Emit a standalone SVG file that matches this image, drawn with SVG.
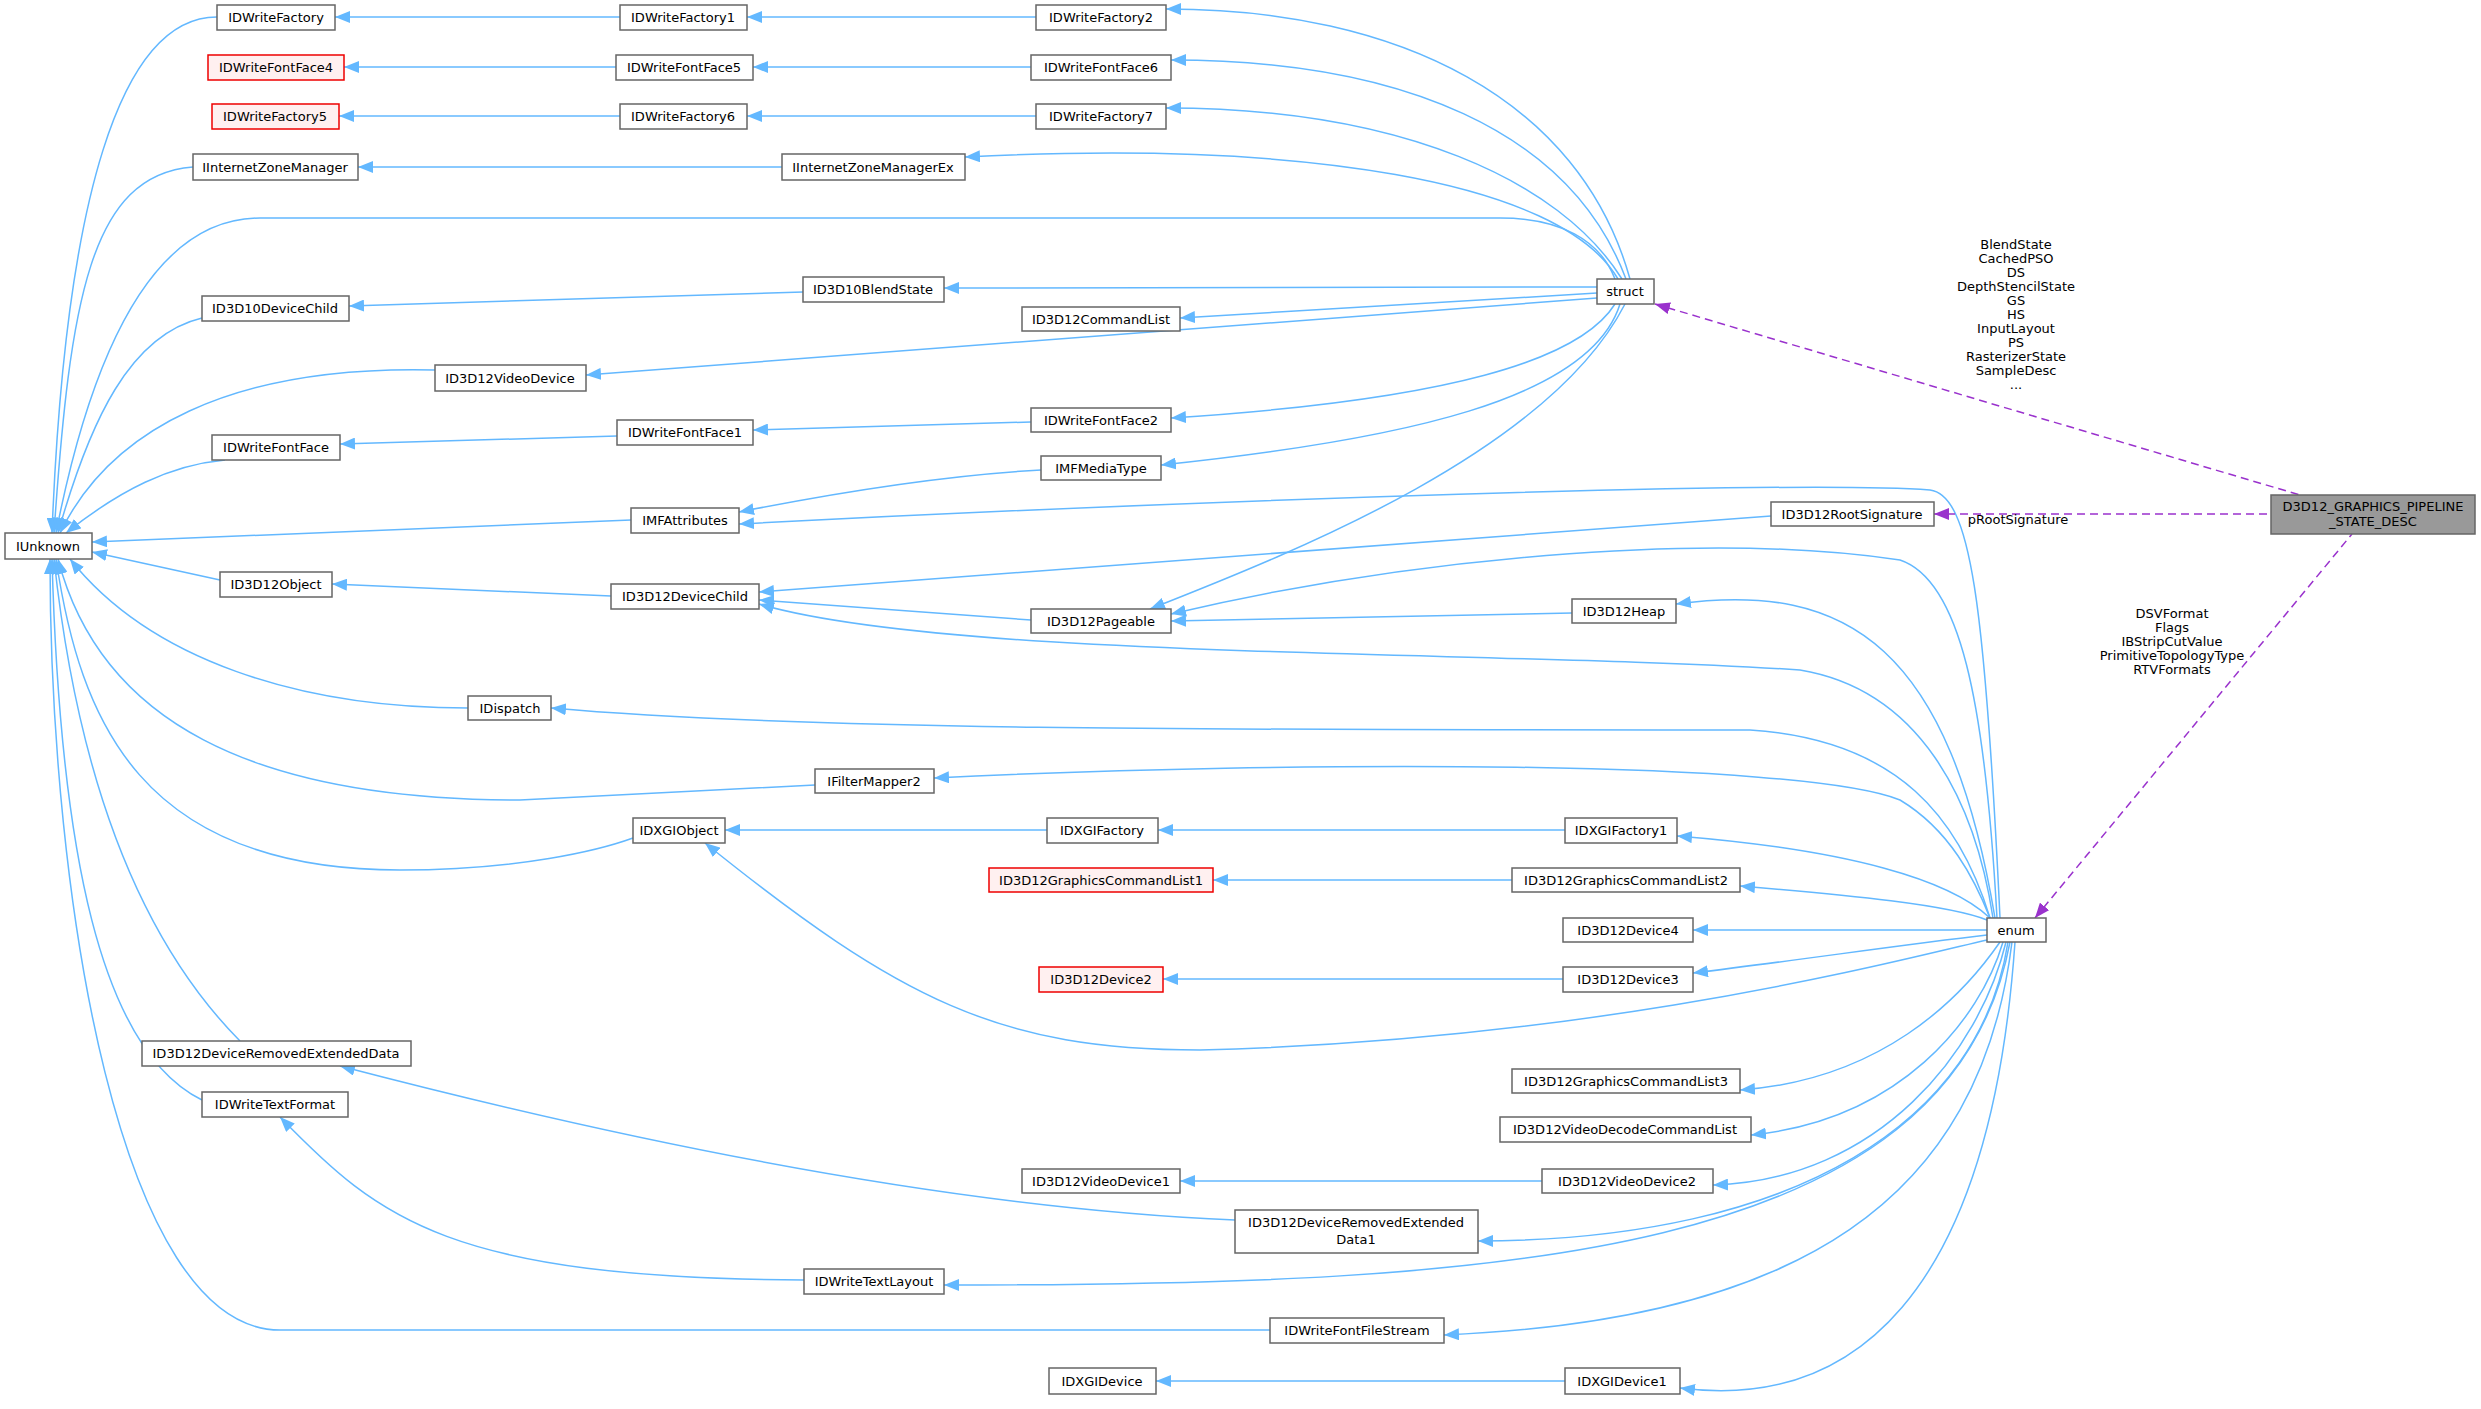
<svg xmlns="http://www.w3.org/2000/svg" width="2481" height="1409" viewBox="0 0 2481 1409">
<style>
.n rect{fill:#fff;stroke:#666;stroke-width:1.5}
.n.r rect{fill:#fff0f0;stroke:#e00}
.n text,.l{font-family:"DejaVu Sans",sans-serif;font-size:13px;fill:#000;text-anchor:middle}
.e path{fill:none;stroke:#63b8ff;stroke-width:1.5;marker-start:url(#a)}
.d path{fill:none;stroke:#9a32cd;stroke-width:1.5;stroke-dasharray:8,5;marker-start:url(#p)}
</style>
<defs>
<marker id="a" markerUnits="userSpaceOnUse" markerWidth="16" markerHeight="12" refX="15" refY="6" orient="auto-start-reverse"><path d="M0,0 L15,6 L0,12 z" fill="#63b8ff"/></marker>
<marker id="p" markerUnits="userSpaceOnUse" markerWidth="16" markerHeight="12" refX="15" refY="6" orient="auto-start-reverse"><path d="M0,0 L15,6 L0,12 z" fill="#9a32cd"/></marker>
</defs>
<rect width="2481" height="1409" fill="#fff"/>
<g class="e">
<path d="M52,533 C65,200 120,17 217,17"/>
<path d="M54,533 C70,300 90,175 193,167"/>
<path d="M56,533 C90,360 150,218 260,218 L1500,218 C1560,218 1600,240 1615,279"/>
<path d="M58,533 C90,420 130,335 202,318"/>
<path d="M60,533 C110,430 230,365 435,370"/>
<path d="M66,533 C120,490 170,465 225,460"/>
<path d="M92,542 L631,520"/>
<path d="M92,552 L220,580"/>
<path d="M70,559 C150,660 300,708 468,708"/>
<path d="M58,559 C100,720 250,800 520,800 L815,785"/>
<path d="M56,559 C80,720 140,870 400,870 C520,870 600,850 633,838"/>
<path d="M54,559 C80,800 150,950 240,1041"/>
<path d="M52,559 C60,850 100,1050 202,1100"/>
<path d="M50,559 C50,900 120,1330 280,1330 L1270,1330"/>
<path d="M335,17 L620,17"/>
<path d="M747,17 L1036,17"/>
<path d="M344,67 L616,67"/>
<path d="M753,67 L1031,67"/>
<path d="M339,116 L620,116"/>
<path d="M747,116 L1036,116"/>
<path d="M358,167 L782,167"/>
<path d="M1166,9 C1400,9 1580,100 1630,279"/>
<path d="M1171,60 C1400,60 1570,130 1626,279"/>
<path d="M1166,108 C1400,108 1560,180 1622,279"/>
<path d="M965,157 C1300,140 1560,180 1618,279"/>
<path d="M349,306 L803,292"/>
<path d="M944,288 L1597,287"/>
<path d="M1180,318 L1597,293"/>
<path d="M586,375 L1597,298"/>
<path d="M340,444 L617,436"/>
<path d="M753,430 L1031,422"/>
<path d="M1171,418 C1450,400 1580,360 1615,304"/>
<path d="M1161,465 C1400,440 1590,400 1620,304"/>
<path d="M739,512 C850,490 950,475 1041,470"/>
<path d="M739,524 C1200,500 1800,480 1930,490 C1970,495 1985,600 2000,918"/>
<path d="M332,584 L611,596"/>
<path d="M759,592 L1771,516"/>
<path d="M759,600 L1031,620"/>
<path d="M1150,609 C1300,550 1550,450 1625,304"/>
<path d="M1171,614 C1400,560 1700,530 1900,560 C1960,580 1985,700 1997,918"/>
<path d="M1171,621 L1572,613"/>
<path d="M1676,604 C1850,580 1950,650 1995,918"/>
<path d="M759,604 C950,660 1500,650 1800,670 C1920,690 1975,800 1993,918"/>
<path d="M551,708 C800,730 1200,730 1750,730 C1900,740 1960,820 1990,918"/>
<path d="M934,778 C1300,760 1800,760 1900,800 C1950,830 1975,880 1990,918"/>
<path d="M725,830 L1047,830"/>
<path d="M1158,830 L1565,830"/>
<path d="M1677,836 C1850,850 1950,880 1990,918"/>
<path d="M1213,880 L1512,880"/>
<path d="M1740,886 C1850,895 1950,905 1987,920"/>
<path d="M1693,930 L1987,930"/>
<path d="M1163,979 L1563,979"/>
<path d="M1693,973 C1800,960 1900,945 1987,935"/>
<path d="M705,843 C900,1000 1000,1050 1200,1050 C1600,1040 1900,960 1987,940"/>
<path d="M1740,1090 C1880,1080 1960,1000 2000,942"/>
<path d="M1751,1135 C1900,1120 1980,1020 2003,942"/>
<path d="M1180,1181 L1542,1181"/>
<path d="M1713,1185 C1880,1180 1980,1050 2006,942"/>
<path d="M340,1066 C700,1160 1000,1210 1235,1220"/>
<path d="M1478,1241 C1800,1240 1980,1120 2008,942"/>
<path d="M280,1117 C380,1220 450,1278 804,1280"/>
<path d="M944,1285 C1500,1285 1950,1260 2010,942"/>
<path d="M1444,1335 C1800,1320 1980,1200 2012,942"/>
<path d="M1156,1381 L1565,1381"/>
<path d="M1680,1388 C1850,1410 1990,1300 2015,942"/>
</g>
<g class="d">
<path d="M1655,304 L2300,495"/>
<path d="M1934,514 L2271,514"/>
<path d="M2035,918 L2352,534"/>
</g>
<text class="l" x="2016" y="249">BlendState</text>
<text class="l" x="2016" y="263">CachedPSO</text>
<text class="l" x="2016" y="277">DS</text>
<text class="l" x="2016" y="291">DepthStencilState</text>
<text class="l" x="2016" y="305">GS</text>
<text class="l" x="2016" y="319">HS</text>
<text class="l" x="2016" y="333">InputLayout</text>
<text class="l" x="2016" y="347">PS</text>
<text class="l" x="2016" y="361">RasterizerState</text>
<text class="l" x="2016" y="375">SampleDesc</text>
<text class="l" x="2016" y="389">...</text>
<text class="l" x="2018" y="524">pRootSignature</text>
<text class="l" x="2172" y="618">DSVFormat</text>
<text class="l" x="2172" y="632">Flags</text>
<text class="l" x="2172" y="646">IBStripCutValue</text>
<text class="l" x="2172" y="660">PrimitiveTopologyType</text>
<text class="l" x="2172" y="674">RTVFormats</text>
<g id="IUnknown" class="n"><rect x="5" y="533" width="87" height="26"/><text x="48" y="551">IUnknown</text></g>
<g id="IDWriteFactory" class="n"><rect x="217" y="5" width="118" height="25"/><text x="276" y="22">IDWriteFactory</text></g>
<g id="IDWriteFactory1" class="n"><rect x="620" y="5" width="127" height="25"/><text x="683" y="22">IDWriteFactory1</text></g>
<g id="IDWriteFactory2" class="n"><rect x="1036" y="5" width="130" height="25"/><text x="1101" y="22">IDWriteFactory2</text></g>
<g id="IDWriteFontFace4" class="n r"><rect x="208" y="55" width="136" height="25"/><text x="276" y="72">IDWriteFontFace4</text></g>
<g id="IDWriteFontFace5" class="n"><rect x="616" y="55" width="137" height="25"/><text x="684" y="72">IDWriteFontFace5</text></g>
<g id="IDWriteFontFace6" class="n"><rect x="1031" y="55" width="140" height="25"/><text x="1101" y="72">IDWriteFontFace6</text></g>
<g id="IDWriteFactory5" class="n r"><rect x="212" y="104" width="127" height="25"/><text x="275" y="121">IDWriteFactory5</text></g>
<g id="IDWriteFactory6" class="n"><rect x="620" y="104" width="127" height="25"/><text x="683" y="121">IDWriteFactory6</text></g>
<g id="IDWriteFactory7" class="n"><rect x="1036" y="104" width="130" height="25"/><text x="1101" y="121">IDWriteFactory7</text></g>
<g id="IInternetZoneManager" class="n"><rect x="193" y="154" width="165" height="26"/><text x="275" y="172">IInternetZoneManager</text></g>
<g id="IInternetZoneManagerEx" class="n"><rect x="782" y="154" width="183" height="26"/><text x="873" y="172">IInternetZoneManagerEx</text></g>
<g id="struct" class="n"><rect x="1597" y="279" width="57" height="25"/><text x="1625" y="296">struct</text></g>
<g id="ID3D10BlendState" class="n"><rect x="803" y="277" width="141" height="25"/><text x="873" y="294">ID3D10BlendState</text></g>
<g id="ID3D10DeviceChild" class="n"><rect x="202" y="296" width="147" height="25"/><text x="275" y="313">ID3D10DeviceChild</text></g>
<g id="ID3D12CommandList" class="n"><rect x="1022" y="307" width="158" height="24"/><text x="1101" y="324">ID3D12CommandList</text></g>
<g id="ID3D12VideoDevice" class="n"><rect x="435" y="365" width="151" height="26"/><text x="510" y="383">ID3D12VideoDevice</text></g>
<g id="IDWriteFontFace1" class="n"><rect x="617" y="420" width="136" height="25"/><text x="685" y="437">IDWriteFontFace1</text></g>
<g id="IDWriteFontFace2" class="n"><rect x="1031" y="408" width="140" height="24"/><text x="1101" y="425">IDWriteFontFace2</text></g>
<g id="IDWriteFontFace" class="n"><rect x="212" y="435" width="128" height="25"/><text x="276" y="452">IDWriteFontFace</text></g>
<g id="IMFMediaType" class="n"><rect x="1041" y="456" width="120" height="24"/><text x="1101" y="473">IMFMediaType</text></g>
<g id="IMFAttributes" class="n"><rect x="631" y="508" width="108" height="25"/><text x="685" y="525">IMFAttributes</text></g>
<g id="ID3D12RootSignature" class="n"><rect x="1771" y="502" width="163" height="24"/><text x="1852" y="519">ID3D12RootSignature</text></g>
<g id="D3D12_GRAPHICS_PIPELINE_STATE_DESC" class="n"><rect x="2271" y="495" width="204" height="39" style="fill:#999"/><text x="2373" y="511">D3D12_GRAPHICS_PIPELINE</text><text x="2373" y="526">_STATE_DESC</text></g>
<g id="ID3D12Object" class="n"><rect x="220" y="572" width="112" height="25"/><text x="276" y="589">ID3D12Object</text></g>
<g id="ID3D12DeviceChild" class="n"><rect x="611" y="584" width="148" height="25"/><text x="685" y="601">ID3D12DeviceChild</text></g>
<g id="ID3D12Heap" class="n"><rect x="1572" y="599" width="104" height="24"/><text x="1624" y="616">ID3D12Heap</text></g>
<g id="ID3D12Pageable" class="n"><rect x="1031" y="609" width="140" height="24"/><text x="1101" y="626">ID3D12Pageable</text></g>
<g id="IDispatch" class="n"><rect x="468" y="696" width="83" height="24"/><text x="510" y="713">IDispatch</text></g>
<g id="IFilterMapper2" class="n"><rect x="815" y="769" width="119" height="24"/><text x="874" y="786">IFilterMapper2</text></g>
<g id="IDXGIObject" class="n"><rect x="633" y="818" width="92" height="25"/><text x="679" y="835">IDXGIObject</text></g>
<g id="IDXGIFactory" class="n"><rect x="1047" y="818" width="111" height="25"/><text x="1102" y="835">IDXGIFactory</text></g>
<g id="IDXGIFactory1" class="n"><rect x="1565" y="818" width="112" height="25"/><text x="1621" y="835">IDXGIFactory1</text></g>
<g id="ID3D12GraphicsCommandList1" class="n r"><rect x="989" y="868" width="224" height="24"/><text x="1101" y="885">ID3D12GraphicsCommandList1</text></g>
<g id="ID3D12GraphicsCommandList2" class="n"><rect x="1512" y="868" width="228" height="24"/><text x="1626" y="885">ID3D12GraphicsCommandList2</text></g>
<g id="ID3D12Device4" class="n"><rect x="1563" y="918" width="130" height="24"/><text x="1628" y="935">ID3D12Device4</text></g>
<g id="enum" class="n"><rect x="1987" y="918" width="59" height="24"/><text x="2016" y="935">enum</text></g>
<g id="ID3D12Device2" class="n r"><rect x="1039" y="967" width="124" height="25"/><text x="1101" y="984">ID3D12Device2</text></g>
<g id="ID3D12Device3" class="n"><rect x="1563" y="967" width="130" height="25"/><text x="1628" y="984">ID3D12Device3</text></g>
<g id="ID3D12DeviceRemovedExtendedData" class="n"><rect x="142" y="1041" width="269" height="25"/><text x="276" y="1058">ID3D12DeviceRemovedExtendedData</text></g>
<g id="ID3D12GraphicsCommandList3" class="n"><rect x="1512" y="1069" width="228" height="24"/><text x="1626" y="1086">ID3D12GraphicsCommandList3</text></g>
<g id="IDWriteTextFormat" class="n"><rect x="202" y="1092" width="146" height="25"/><text x="275" y="1109">IDWriteTextFormat</text></g>
<g id="ID3D12VideoDecodeCommandList" class="n"><rect x="1500" y="1117" width="251" height="25"/><text x="1625" y="1134">ID3D12VideoDecodeCommandList</text></g>
<g id="ID3D12VideoDevice1" class="n"><rect x="1022" y="1169" width="158" height="24"/><text x="1101" y="1186">ID3D12VideoDevice1</text></g>
<g id="ID3D12VideoDevice2" class="n"><rect x="1542" y="1169" width="171" height="24"/><text x="1627" y="1186">ID3D12VideoDevice2</text></g>
<g id="ID3D12DeviceRemovedExtendedData1" class="n"><rect x="1235" y="1210" width="243" height="43"/><text x="1356" y="1227">ID3D12DeviceRemovedExtended</text><text x="1356" y="1244">Data1</text></g>
<g id="IDWriteTextLayout" class="n"><rect x="804" y="1269" width="140" height="25"/><text x="874" y="1286">IDWriteTextLayout</text></g>
<g id="IDWriteFontFileStream" class="n"><rect x="1270" y="1318" width="174" height="25"/><text x="1357" y="1335">IDWriteFontFileStream</text></g>
<g id="IDXGIDevice" class="n"><rect x="1049" y="1368" width="107" height="26"/><text x="1102" y="1386">IDXGIDevice</text></g>
<g id="IDXGIDevice1" class="n"><rect x="1565" y="1368" width="115" height="26"/><text x="1622" y="1386">IDXGIDevice1</text></g>
</svg>
